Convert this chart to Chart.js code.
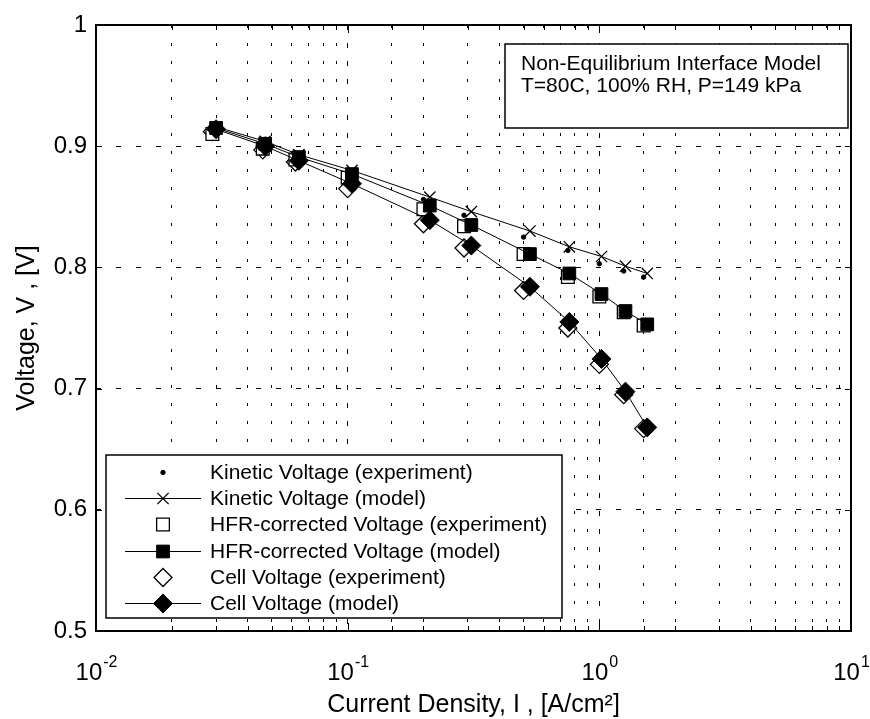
<!DOCTYPE html>
<html>
<head>
<meta charset="utf-8">
<script src="https://cdn.jsdelivr.net/npm/chart.js@4.4.1/dist/chart.umd.min.js"></script>
<style>
  html, body { margin: 0; padding: 0; background: #fff; }
  #wrap { width: 870px; height: 719px; }
</style>
</head>
<body>
<div id="wrap"><canvas id="chart" width="870" height="719"></canvas></div>
<script>
// current densities [A/cm2]
const expCurrent = [0.029, 0.046, 0.062, 0.100, 0.200, 0.290, 0.500, 0.750, 1.00, 1.25, 1.50];
const modelCurrent = [0.030, 0.047, 0.064, 0.104, 0.212, 0.310, 0.530, 0.760, 1.02, 1.27, 1.55];

// voltages [V]
const kineticExp = [0.916, 0.903, 0.892, 0.878, 0.856, 0.843, 0.825, 0.814, 0.803, 0.797, 0.792];
const kineticModel = [0.916, 0.904, 0.893, 0.880, 0.858, 0.846, 0.830, 0.817, 0.809, 0.801, 0.795];
const hfrExp = [0.910, 0.898, 0.889, 0.874, 0.848, 0.834, 0.811, 0.792, 0.776, 0.763, 0.752];
const hfrModel = [0.915, 0.902, 0.891, 0.877, 0.851, 0.835, 0.811, 0.795, 0.778, 0.764, 0.753];
const cellExp = [0.912, 0.897, 0.887, 0.865, 0.836, 0.816, 0.781, 0.750, 0.720, 0.695, 0.667];
const cellModel = [0.914, 0.900, 0.888, 0.869, 0.839, 0.818, 0.784, 0.755, 0.7245, 0.6975, 0.668];

const seriesNames = [
  'Kinetic Voltage (experiment)',
  'Kinetic Voltage (model)',
  'HFR-corrected Voltage (experiment)',
  'HFR-corrected Voltage (model)',
  'Cell Voltage (experiment)',
  'Cell Voltage (model)'
];
const noteLines = ['Non-Equilibrium Interface Model', 'T=80C, 100% RH, P=149 kPa'];
const xTitle = 'Current Density, I , [A/cm²]';
const yTitle = 'Voltage, V , [V]';

const FONT = '"Liberation Sans", Arial, Helvetica, sans-serif';

const pts = (xs, ys) => xs.map((x, i) => ({ x, y: ys[i] }));

const datasets = [
  { label: seriesNames[0], data: pts(expCurrent, kineticExp), showLine: false, order: 1,
    pointStyle: 'circle', pointRadius: 2.2, backgroundColor: '#000', borderColor: '#000', pointBorderWidth: 1 },
  { label: seriesNames[1], data: pts(modelCurrent, kineticModel), showLine: true, order: 0,
    pointStyle: 'crossRot', pointRadius: 8, backgroundColor: '#000', borderColor: '#000', borderWidth: 1, pointBorderWidth: 1.3 },
  { label: seriesNames[2], data: pts(expCurrent, hfrExp), showLine: false, order: 1,
    pointStyle: 'rect', pointRadius: 9, backgroundColor: '#fff', borderColor: '#000', pointBorderWidth: 1.3 },
  { label: seriesNames[3], data: pts(modelCurrent, hfrModel), showLine: true, order: 0,
    pointStyle: 'rect', pointRadius: 9, backgroundColor: '#000', borderColor: '#000', borderWidth: 1, pointBorderWidth: 1 },
  { label: seriesNames[4], data: pts(expCurrent, cellExp), showLine: false, order: 1,
    pointStyle: 'rectRot', pointRadius: 9, backgroundColor: '#fff', borderColor: '#000', pointBorderWidth: 1.3 },
  { label: seriesNames[5], data: pts(modelCurrent, cellModel), showLine: true, order: 0,
    pointStyle: 'rectRot', pointRadius: 9.5, backgroundColor: '#000', borderColor: '#000', borderWidth: 1, pointBorderWidth: 1 }
];

const isDecade = v => Math.abs(Math.log10(v) - Math.round(Math.log10(v))) < 1e-6;

function marker(ctx, style, r, cx, cy, fill) {
  ctx.beginPath();
  if (style === 'circle') {
    ctx.arc(cx, cy, r, 0, Math.PI * 2);
  } else if (style === 'rect') {
    const s = r * Math.SQRT1_2;
    ctx.rect(cx - s, cy - s, 2 * s, 2 * s);
  } else if (style === 'rectRot') {
    ctx.moveTo(cx - r, cy); ctx.lineTo(cx, cy - r); ctx.lineTo(cx + r, cy); ctx.lineTo(cx, cy + r); ctx.closePath();
  } else if (style === 'crossRot') {
    const s = r * Math.SQRT1_2;
    ctx.moveTo(cx - s, cy - s); ctx.lineTo(cx + s, cy + s);
    ctx.moveTo(cx + s, cy - s); ctx.lineTo(cx - s, cy + s);
  }
  if (style !== 'crossRot') { ctx.fillStyle = fill; ctx.fill(); }
  ctx.stroke();
}

const decor = {
  id: 'decor',
  afterDraw(chart) {
    const { ctx, chartArea: a, scales: { x, y } } = chart;
    ctx.save();
    ctx.strokeStyle = '#000';
    ctx.fillStyle = '#000';
    ctx.lineWidth = 1;

    // inward tick marks
    ctx.beginPath();
    x.ticks.forEach(t => {
      const px = Math.round(x.getPixelForValue(t.value)) + 0.5;
      const len = isDecade(t.value) ? 8 : 5;
      ctx.moveTo(px, a.bottom); ctx.lineTo(px, a.bottom - len);
      ctx.moveTo(px, a.top); ctx.lineTo(px, a.top + len);
    });
    y.ticks.forEach(t => {
      const py = Math.round(y.getPixelForValue(t.value)) + 0.5;
      ctx.moveTo(a.left, py); ctx.lineTo(a.left + 6, py);
      ctx.moveTo(a.right, py); ctx.lineTo(a.right - 6, py);
    });
    ctx.stroke();

    // frame
    ctx.lineWidth = 2;
    ctx.strokeRect(a.left, a.top, a.right - a.left, a.bottom - a.top);

    // x tick labels 10^n
    ctx.textBaseline = 'alphabetic';
    ctx.textAlign = 'left';
    x.ticks.filter(t => isDecade(t.value)).forEach(t => {
      const px = x.getPixelForValue(t.value);
      const ex = String(Math.round(Math.log10(t.value)));
      ctx.font = '24px ' + FONT;
      const wb = ctx.measureText('10').width;
      ctx.font = '16px ' + FONT;
      const we = ctx.measureText(ex).width;
      const left = px - (wb + we) / 2;
      ctx.font = '24px ' + FONT;
      ctx.fillText('10', left, 680);
      ctx.font = '16px ' + FONT;
      ctx.fillText(ex, left + wb + 1, 667);
    });

    // axis titles
    ctx.font = '25px ' + FONT;
    ctx.textAlign = 'center';
    ctx.fillText(xTitle, (a.left + a.right) / 2, 712);
    ctx.save();
    ctx.translate(34, (a.top + a.bottom) / 2);
    ctx.rotate(-Math.PI / 2);
    ctx.fillText(yTitle, 0, 0);
    ctx.restore();

    // legend
    const lg = { left: 106, top: 455, right: 562, bottom: 618 };
    ctx.fillStyle = '#fff';
    ctx.fillRect(lg.left, lg.top, lg.right - lg.left, lg.bottom - lg.top);
    ctx.lineWidth = 1.5;
    ctx.strokeStyle = '#000';
    ctx.strokeRect(lg.left, lg.top, lg.right - lg.left, lg.bottom - lg.top);
    ctx.font = '21px ' + FONT;
    ctx.textAlign = 'left';
    ctx.textBaseline = 'middle';
    datasets.forEach((ds, i) => {
      const cy = Math.round(472 + i * 26.2) + 0.5;
      ctx.strokeStyle = '#000';
      if (ds.showLine) {
        ctx.lineWidth = 1;
        ctx.beginPath(); ctx.moveTo(125, cy); ctx.lineTo(201, cy); ctx.stroke();
      }
      ctx.lineWidth = ds.pointBorderWidth;
      marker(ctx, ds.pointStyle, ds.pointRadius, 163, cy, ds.backgroundColor);
      ctx.fillStyle = '#000';
      ctx.fillText(ds.label, 210, cy + 1);
    });

    // note box
    const nb = { left: 505, top: 44, right: 848, bottom: 128 };
    ctx.fillStyle = '#fff';
    ctx.fillRect(nb.left, nb.top, nb.right - nb.left, nb.bottom - nb.top);
    ctx.lineWidth = 1.5;
    ctx.strokeRect(nb.left, nb.top, nb.right - nb.left, nb.bottom - nb.top);
    ctx.fillStyle = '#000';
    ctx.textBaseline = 'alphabetic';
    ctx.font = '21px ' + FONT;
    noteLines.forEach((s, i) => ctx.fillText(s, 521, 70 + i * 22));

    ctx.restore();
  }
};

new Chart(document.getElementById('chart'), {
  type: 'scatter',
  data: { datasets },
  options: {
    responsive: false,
    animation: false,
    layout: { padding: { top: 25, right: 19, left: 0, bottom: 0 } },
    plugins: { legend: { display: false }, tooltip: { enabled: false } },
    scales: {
      x: {
        type: 'logarithmic',
        position: 'bottom',
        min: 0.01,
        max: 10,
        afterFit: s => { s.height = 88; },
        ticks: { display: false, autoSkip: false },
        grid: { color: '#000', lineWidth: 1, drawTicks: false },
        border: { display: false, dash: c => (c.tick && isDecade(c.tick.value)) ? [5, 13] : [3, 15] }
      },
      y: {
        min: 0.5,
        max: 1,
        afterFit: s => { s.width = 96; },
        ticks: {
          stepSize: 0.1,
          padding: 9,
          color: '#000',
          font: { family: FONT, size: 24 },
          callback: v => String(+v.toFixed(1))
        },
        grid: { color: '#000', lineWidth: 1, drawTicks: false },
        border: { display: false, dash: [5, 15] }
      }
    }
  },
  plugins: [decor]
});
</script>
</body>
</html>
